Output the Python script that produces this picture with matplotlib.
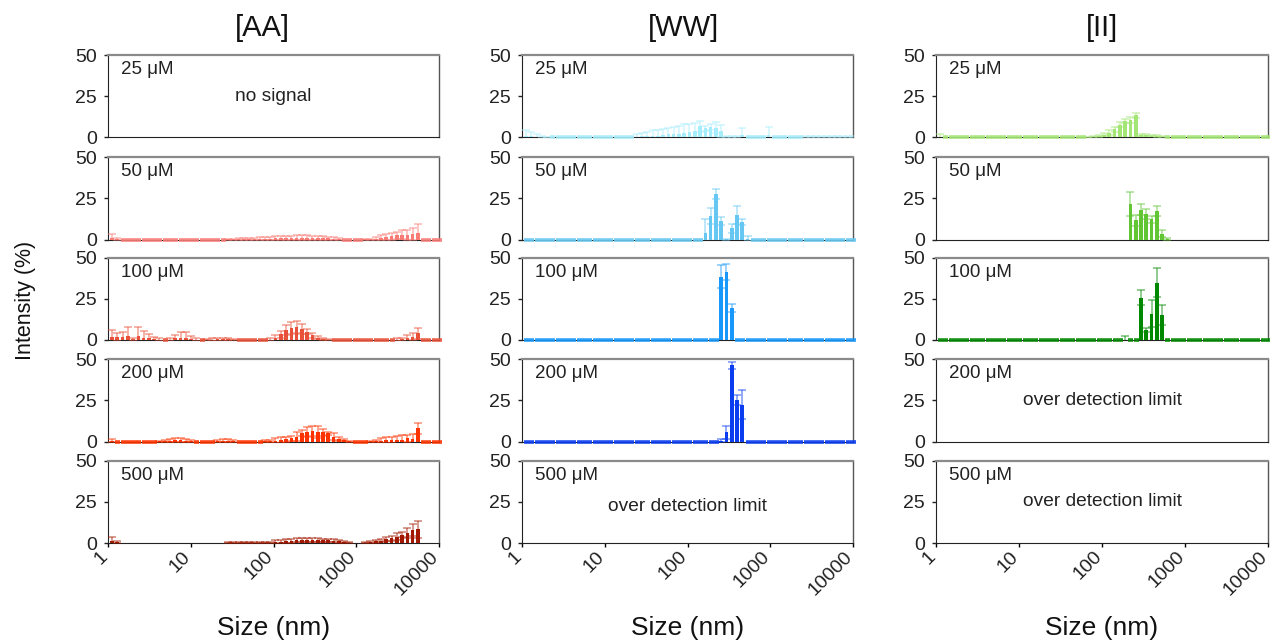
import numpy as np
import matplotlib
matplotlib.use('Agg')
import matplotlib.pyplot as plt
import matplotlib.transforms as mtrans

plt.rcParams['font.family'] = ['Liberation Sans', 'DejaVu Sans']

N = np.nan

# DLS size bins (nm), bins 7..69 of the 70-bin distribution
sizes = [1.117, 1.294, 1.499, 1.736, 2.010, 2.328, 2.696, 3.122, 3.615, 4.187,
         4.849, 5.615, 6.503, 7.531, 8.721, 10.10, 11.70, 13.54, 15.69, 18.17,
         21.04, 24.36, 28.21, 32.67, 37.84, 43.82, 50.75, 58.77, 68.06, 78.82,
         91.28, 105.7, 122.4, 141.8, 164.2, 190.1, 220.2, 255.0, 295.3, 342.0,
         396.1, 458.7, 531.2, 615.1, 712.4, 825.0, 955.4, 1106, 1281, 1484,
         1718, 1990, 2305, 2669, 3091, 3580, 4145, 4801, 5560, 6439,
         7456, 8635, 10000]

# ---------------- [AA] ----------------
aa50_val = [1.0, 0.5, 0, 0, 0, 0, 0, 0, 0, 0,
            0, 0, 0, 0, 0, 0, 0, 0, 0, 0,
            0, 0, 0.1, 0.1, 0.2, 0.2, 0.3, 0.3, 0.4, 0.5,
            0.6, 0.7, 0.8, 0.9, 1.0, 1.1, 1.2, 1.2, 1.2, 1.1,
            1.0, 0.8, 0.6, 0.3, 0, 0, 0, 0, 0.1, 0.2,
            0.5, 1.0, 1.5, 2.0, 2.5, 3.0, 3.0, 3.5, 4.0, 0,
            0, 0, 0]
aa50_err = [2.5, 0.5, 0, 0, 0, 0, 0, 0, 0, 0,
            0, 0, 0, 0, 0, 0, 0, 0, 0, 0,
            0, 0, 0.3, 0.4, 0.5, 0.6, 0.7, 0.8, 0.9, 1.0,
            1.1, 1.2, 1.3, 1.4, 1.4, 1.4, 1.3, 1.3, 1.2, 1.1,
            1.0, 0.9, 0.8, 0.5, 0, 0, 0, 0, 0.2, 0.4,
            1.0, 1.5, 2.0, 2.0, 2.0, 2.5, 3.0, 3.5, 5.5, 0,
            0, 0, 0]

aa100_val = [1.8, 1.8, 1.8, 2.5, 0.5, 2.5, 1.5, 1.0, 0.5, 0.3,
             0, 0.3, 1.0, 1.5, 1.5, 0.5, 0.3, 0, 0.2, 0.3,
             0.5, 0.5, 0.4, 0.2, 0, 0, 0, 0, 0, 0,
             0.3, 1.0, 3.5, 6.0, 7.5, 8.0, 6.5, 5.0, 3.0, 1.5,
             0.5, 0.2, 0, 0, 0, 0, 0, 0, 0, 0,
             0, 0, 0, 0, 0.3, 0.5, 1.0, 2.0, 4.0, 0,
             0, 0, 0]
aa100_err = [4.0, 2.5, 3.2, 5.5, 1.0, 5.5, 4.0, 2.5, 1.5, 0.7,
             0, 0.8, 2.0, 3.5, 3.5, 2.0, 0.7, 0, 0.5, 0.8,
             1.0, 1.0, 0.8, 0.5, 0, 0, 0, 0, 0, 0,
             1.0, 2.0, 2.0, 3.0, 3.6, 3.5, 3.0, 1.5, 1.5, 1.0,
             0.8, 0.5, 0, 0, 0, 0, 0, 0, 0, 0,
             0, 0, 0, 0, 0.7, 1.0, 2.0, 2.3, 3.5, 0,
             0, 0, 0]

aa200_val = [0.5, 0, 0, 0, 0, 0, 0, 0, 0, 0.2,
             0.4, 0.6, 0.8, 0.8, 0.6, 0.3, 0, 0, 0, 0,
             0.3, 0.5, 0.5, 0.3, 0, 0, 0, 0, 0, 0.2,
             0.3, 0.5, 0.8, 1.4, 2.0, 3.0, 5.1, 5.7, 6.3, 5.9,
             5.5, 4.9, 3.0, 1.6, 1.0, 0.3, 0, 0, 0, 0.2,
             0.3, 0.5, 0.8, 1.0, 1.0, 1.2, 2.0, 1.5, 8.0, 0,
             0, 0, 0]
aa200_err = [1.0, 0, 0, 0, 0, 0, 0, 0, 0, 0.4,
             0.8, 1.0, 1.2, 1.2, 1.0, 0.6, 0, 0, 0, 0,
             0.6, 0.8, 0.8, 0.6, 0, 0, 0, 0, 0, 0.5,
             0.7, 1.5, 1.8, 1.6, 1.4, 2.7, 2.0, 2.8, 3.2, 3.6,
             2.0, 1.0, 2.0, 1.4, 0.4, 0.3, 0, 0, 0, 0.3,
             0.7, 1.5, 1.7, 2.0, 2.5, 2.6, 2.0, 3.0, 3.2, 0,
             0, 0, 0]

aa500_val = [1.0, 0.4, N, N, N, N, N, N, N, N,
             N, N, N, N, N, N, N, N, N, N,
             N, N, 0.1, 0.1, 0.1, 0.1, 0.1, 0.1, 0.1, 0.2,
             0.3, 0.6, 0.9, 1.2, 1.4, 1.6, 1.7, 1.8, 1.8, 1.8,
             1.7, 1.6, 1.4, 1.1, 0.7, 0.3, N, N, 0.2, 0.5,
             1.0, 1.5, 2.4, 3.0, 3.9, 4.9, 5.9, 7.9, 8.3, N,
             N, N, N]
aa500_err = [2.6, 0.6, N, N, N, N, N, N, N, N,
             N, N, N, N, N, N, N, N, N, N,
             N, N, 0.3, 0.3, 0.3, 0.3, 0.3, 0.3, 0.3, 0.4,
             0.6, 1.0, 1.2, 1.2, 1.2, 1.2, 1.2, 1.2, 1.2, 1.1,
             1.0, 1.0, 0.9, 0.8, 0.6, 0.4, N, N, 0.3, 0.5,
             0.8, 1.0, 1.2, 1.5, 2.0, 1.5, 3.0, 3.7, 5.3, N,
             N, N, N]

# ---------------- [WW] ----------------
ww25_val = [1.0, 0.8, 0.5, 0.3, 0.1, 0, 0, 0, 0, 0,
            0, 0, 0, 0, 0, 0, 0, 0, 0, 0,
            0, 0.5, 0.8, 1.0, 1.0, 1.2, 1.6, 2.0, 2.4, 2.4,
            3.0, 3.6, 4.0, 6.7, 5.5, 6.3, 6.0, 4.0, 0.5, 0.3,
            0.3, 1.5, 0, 0, 0, 0, 1.5, 0, 0, 0,
            0, 0, 0, 0.2, 0.2, 0.2, 0.2, 0.2, 0.2, 0.2,
            0.2, 0.2, 0.2]
ww25_err = [3.5, 2.5, 1.5, 0.8, 0.3, 0, 0, 0, 0, 0,
            0, 0, 0, 0, 0, 0, 0, 0, 0, 0,
            0, 1.5, 2.2, 2.6, 3.3, 3.5, 3.5, 3.7, 3.7, 4.5,
            4.9, 4.3, 4.9, 3.1, 1.6, 2.0, 3.1, 3.5, 0.5, 0.4,
            0.4, 4.0, 0, 0, 0, 0, 4.8, 0, 0, 0,
            0, 0, 0, 0.7, 0.7, 0.7, 0.7, 0.7, 0.7, 0.7,
            0.7, 0.7, 0.7]

ww50_val = [0, 0, 0, 0, 0, 0, 0, 0, 0, 0,
            0, 0, 0, 0, 0, 0, 0, 0, 0, 0,
            0, 0, 0, 0, 0, 0, 0, 0, 0, 0,
            0, 0, 0, 0, 4.0, 14.3, 27.5, 11.2, 0.3, 6.7,
            14.9, 10.6, 0.5, 0, 0, 0, 0, 0, 0, 0,
            0, 0, 0, 0, 0, 0, 0, 0, 0, 0,
            0, 0, 0]
ww50_err = [0, 0, 0, 0, 0, 0, 0, 0, 0, 0,
            0, 0, 0, 0, 0, 0, 0, 0, 0, 0,
            0, 0, 0, 0, 0, 0, 0, 0, 0, 0,
            0, 0, 0, 0, 8.2, 4.7, 3.1, 2.7, 0.3, 2.5,
            5.5, 2.1, 1.5, 0, 0, 0, 0, 0, 0, 0,
            0, 0, 0, 0, 0, 0, 0, 0, 0, 0,
            0, 0, 0]

ww100_val = [0, 0, 0, 0, 0, 0, 0, 0, 0, 0,
             0, 0, 0, 0, 0, 0, 0, 0, 0, 0,
             0, 0, 0, 0, 0, 0, 0, 0, 0, 0,
             0, 0, 0, 0, 0, 0, 0, 38.3, 41.3, 19.5,
             0, 0, 0, 0, 0, 0, 0, 0, 0, 0,
             0, 0, 0, 0, 0, 0, 0, 0, 0, 0,
             0, 0, 0]
ww100_err = [0, 0, 0, 0, 0, 0, 0, 0, 0, 0,
             0, 0, 0, 0, 0, 0, 0, 0, 0, 0,
             0, 0, 0, 0, 0, 0, 0, 0, 0, 0,
             0, 0, 0, 0, 0, 0, 0, 7.0, 5.0, 2.5,
             0, 0, 0, 0, 0, 0, 0, 0, 0, 0,
             0, 0, 0, 0, 0, 0, 0, 0, 0, 0,
             0, 0, 0]

ww200_val = [0, 0, 0, 0, 0, 0, 0, 0, 0, 0,
             0, 0, 0, 0, 0, 0, 0, 0, 0, 0,
             0, 0, 0, 0, 0, 0, 0, 0, 0, 0,
             0, 0, 0, 0, 0, 0, 0, 0.5, 5.5, 46.3,
             25.1, 22.4, 0, 0, 0, 0, 0, 0, 0, 0,
             0, 0, 0, 0, 0, 0, 0, 0, 0, 0,
             0, 0, 0]
ww200_err = [0, 0, 0, 0, 0, 0, 0, 0, 0, 0,
             0, 0, 0, 0, 0, 0, 0, 0, 0, 0,
             0, 0, 0, 0, 0, 0, 0, 0, 0, 0,
             0, 0, 0, 0, 0, 0, 0, 1.0, 4.1, 2.1,
             3.1, 8.8, 0, 0, 0, 0, 0, 0, 0, 0,
             0, 0, 0, 0, 0, 0, 0, 0, 0, 0,
             0, 0, 0]

# ---------------- [II] ----------------
ii25_val = [0.3, 0, 0, 0, 0, 0, 0, 0, 0, 0,
            0, 0, 0, 0, 0, 0, 0, 0, 0, 0,
            0, 0, 0, 0, 0, 0, 0, 0, 0.2, 0.5,
            1.0, 1.8, 3.0, 5.0, 7.8, 10.0, 10.8, 13.5, 1.5, 1.5,
            1.2, 1.0, 0.5, 0, 0, 0, 0, 0, 0, 0,
            0, 0, 0, 0, 0, 0, 0, 0, 0, 0,
            0, 0, 0]
ii25_err = [1.7, 0, 0, 0, 0, 0, 0, 0, 0, 0,
            0, 0, 0, 0, 0, 0, 0, 0, 0, 0,
            0, 0, 0, 0, 0, 0, 0, 0, 0.3, 0.5,
            0.8, 1.0, 1.5, 1.6, 1.5, 1.2, 1.8, 1.5, 0.5, 0.5,
            0.5, 0.5, 0.5, 0, 0, 0, 0, 0, 0, 0,
            0, 0, 0, 0, 0, 0, 0, 0, 0, 0,
            0, 0, 0]

ii50_val = [N, N, N, N, N, N, N, N, N, N,
            N, N, N, N, N, N, N, N, N, N,
            N, N, N, N, N, N, N, N, N, N,
            N, N, N, N, N, N, 21.4, 11.6, 18.0, 15.3,
            12.2, 17.3, 3.5, 0.3, N, N, N, N, N, N,
            N, N, N, N, N, N, N, N, N, N,
            N, N, N]
ii50_err = [N, N, N, N, N, N, N, N, N, N,
            N, N, N, N, N, N, N, N, N, N,
            N, N, N, N, N, N, N, N, N, N,
            N, N, N, N, N, N, 7.2, 3.3, 3.4, 3.1,
            2.1, 3.1, 2.0, 0.5, N, N, N, N, N, N,
            N, N, N, N, N, N, N, N, N, N,
            N, N, N]

ii100_val = [0, 0, 0, 0, 0, 0, 0, 0, 0, 0,
             0, 0, 0, 0, 0, 0, 0, 0, 0, 0,
             0, 0, 0, 0, 0, 0, 0, 0, 0, 0,
             0, 0, 0, 0, 0, 0.3, 0, 0, 25.7, 6.1,
             16.0, 34.8, 15.2, 0, 0, 0, 0, 0, 0, 0,
             0, 0, 0, 0, 0, 0, 0, 0, 0, 0,
             0, 0, 0]
ii100_err = [0, 0, 0, 0, 0, 0, 0, 0, 0, 0,
             0, 0, 0, 0, 0, 0, 0, 0, 0, 0,
             0, 0, 0, 0, 0, 0, 0, 0, 0, 0,
             0, 0, 0, 0, 0, 2.0, 0, 0, 4.7, 1.4,
             8.1, 8.7, 6.1, 0, 0, 0, 0, 0, 0, 0,
             0, 0, 0, 0, 0, 0, 0, 0, 0, 0,
             0, 0, 0]

col_titles = ['[AA]', '[WW]', '[II]']
conc_labels = ['25 μM', '50 μM', '100 μM', '200 μM', '500 μM']
xtick_vals = [1, 10, 100, 1000, 10000]
xtick_labels = ['1', '10', '100', '1000', '10000']

# panel contents: (values, errors, colour) or a note text
panels = {
    (0, 0): 'no signal',
    (1, 0): (aa50_val, aa50_err, '#F97B76'),
    (2, 0): (aa100_val, aa100_err, '#E8523A'),
    (3, 0): (aa200_val, aa200_err, '#FF3300'),
    (4, 0): (aa500_val, aa500_err, '#A31800'),
    (0, 1): (ww25_val, ww25_err, '#A6EDFB'),
    (1, 1): (ww50_val, ww50_err, '#66C8F2'),
    (2, 1): (ww100_val, ww100_err, '#1898FA'),
    (3, 1): (ww200_val, ww200_err, '#0A3CF0'),
    (4, 1): 'over detection limit',
    (0, 2): (ii25_val, ii25_err, '#A4E676'),
    (1, 2): (ii50_val, ii50_err, '#62C634'),
    (2, 2): (ii100_val, ii100_err, '#008800'),
    (3, 2): 'over detection limit',
    (4, 2): 'over detection limit',
}

W, H = 1270, 642
fig = plt.figure(figsize=(W / 100, H / 100), dpi=100)

col_left = [108, 522, 936]
col_width = [331, 331, 332]
row_top = [55, 157, 257.5, 359, 460.5]
ax_h = 82.5

s = np.array(sizes, float)
bw = 10 ** 0.022  # half bar width factor (log space)
lab_shift = mtrans.ScaledTranslation(-3 / 100, 0, fig.dpi_scale_trans)

for (r, c), content in panels.items():
    x0 = col_left[c] / W
    y0 = 1 - (row_top[r] + ax_h) / H
    ax = fig.add_axes([x0, y0, col_width[c] / W, ax_h / H])
    ax.set_xscale('log')
    ax.set_xlim(1, 10000)
    ax.set_ylim(0, 50)
    ax.set_yticks([0, 25, 50])
    ax.tick_params(axis='y', direction='out', length=3, width=1, labelsize=14,
                   colors='#222222', pad=5)
    ax.minorticks_off()
    if r == 4:
        ax.set_xticks(xtick_vals)
        ax.set_xticklabels(xtick_labels, rotation=45, ha='right', va='center',
                           rotation_mode='anchor', fontsize=14, color='#222222')
        ax.tick_params(axis='x', direction='out', length=3, width=1, pad=5)
        for lab in ax.get_xticklabels():
            lab.set_transform(lab.get_transform() + lab_shift)
    else:
        ax.set_xticks([])
    ax.spines['top'].set_color('#8a8a8a')
    ax.spines['top'].set_linewidth(1.6)
    ax.spines['right'].set_color('#555555')
    ax.spines['right'].set_linewidth(1.0)
    ax.spines['left'].set_color('#222222')
    ax.spines['bottom'].set_color('#222222')
    ax.text(0.04, 0.82, conc_labels[r], transform=ax.transAxes, fontsize=13.5,
            color='#222222', va='center', ha='left')

    if isinstance(content, str):
        ypos = 0.44 if (r, c) == (4, 1) else 0.5
        ax.text(0.5, ypos, content, transform=ax.transAxes, fontsize=13.8,
                color='#222222', va='center', ha='center')
        continue

    vals, errs, colr = content
    v = np.array(vals, float)
    e = np.array(errs, float)
    nz = np.nan_to_num(v) > 0
    lo = s / bw
    hi = s * bw
    ax.bar(lo[nz], v[nz], width=(hi - lo)[nz], align='edge', color=colr,
           linewidth=0, zorder=3)
    ax.errorbar(s[nz], v[nz], yerr=e[nz], fmt='none', ecolor=colr, alpha=0.55,
                capsize=3, elinewidth=1.1, capthick=1.1, zorder=4)
    z = v == 0
    ax.plot(s[z], v[z], ls='none', marker='_', ms=3.6, mew=2.6, color=colr,
            clip_on=False, zorder=5, alpha=0.9)

# column titles and axis labels
title_x = [262, 683, 1102]
for c in range(3):
    fig.text(title_x[c] / W, 1 - 28 / H, col_titles[c], fontsize=21,
             ha='center', va='center', color='#111111')
    fig.text((col_left[c] + col_width[c] / 2) / W, 1 - 628 / H, 'Size (nm)',
             fontsize=19, ha='center', va='center', color='#111111')
fig.text(25 / W, 1 - 300 / H, 'Intensity (%)', fontsize=15.5, rotation=90,
         ha='center', va='center', color='#111111')

fig.savefig('out.png', dpi=100)
